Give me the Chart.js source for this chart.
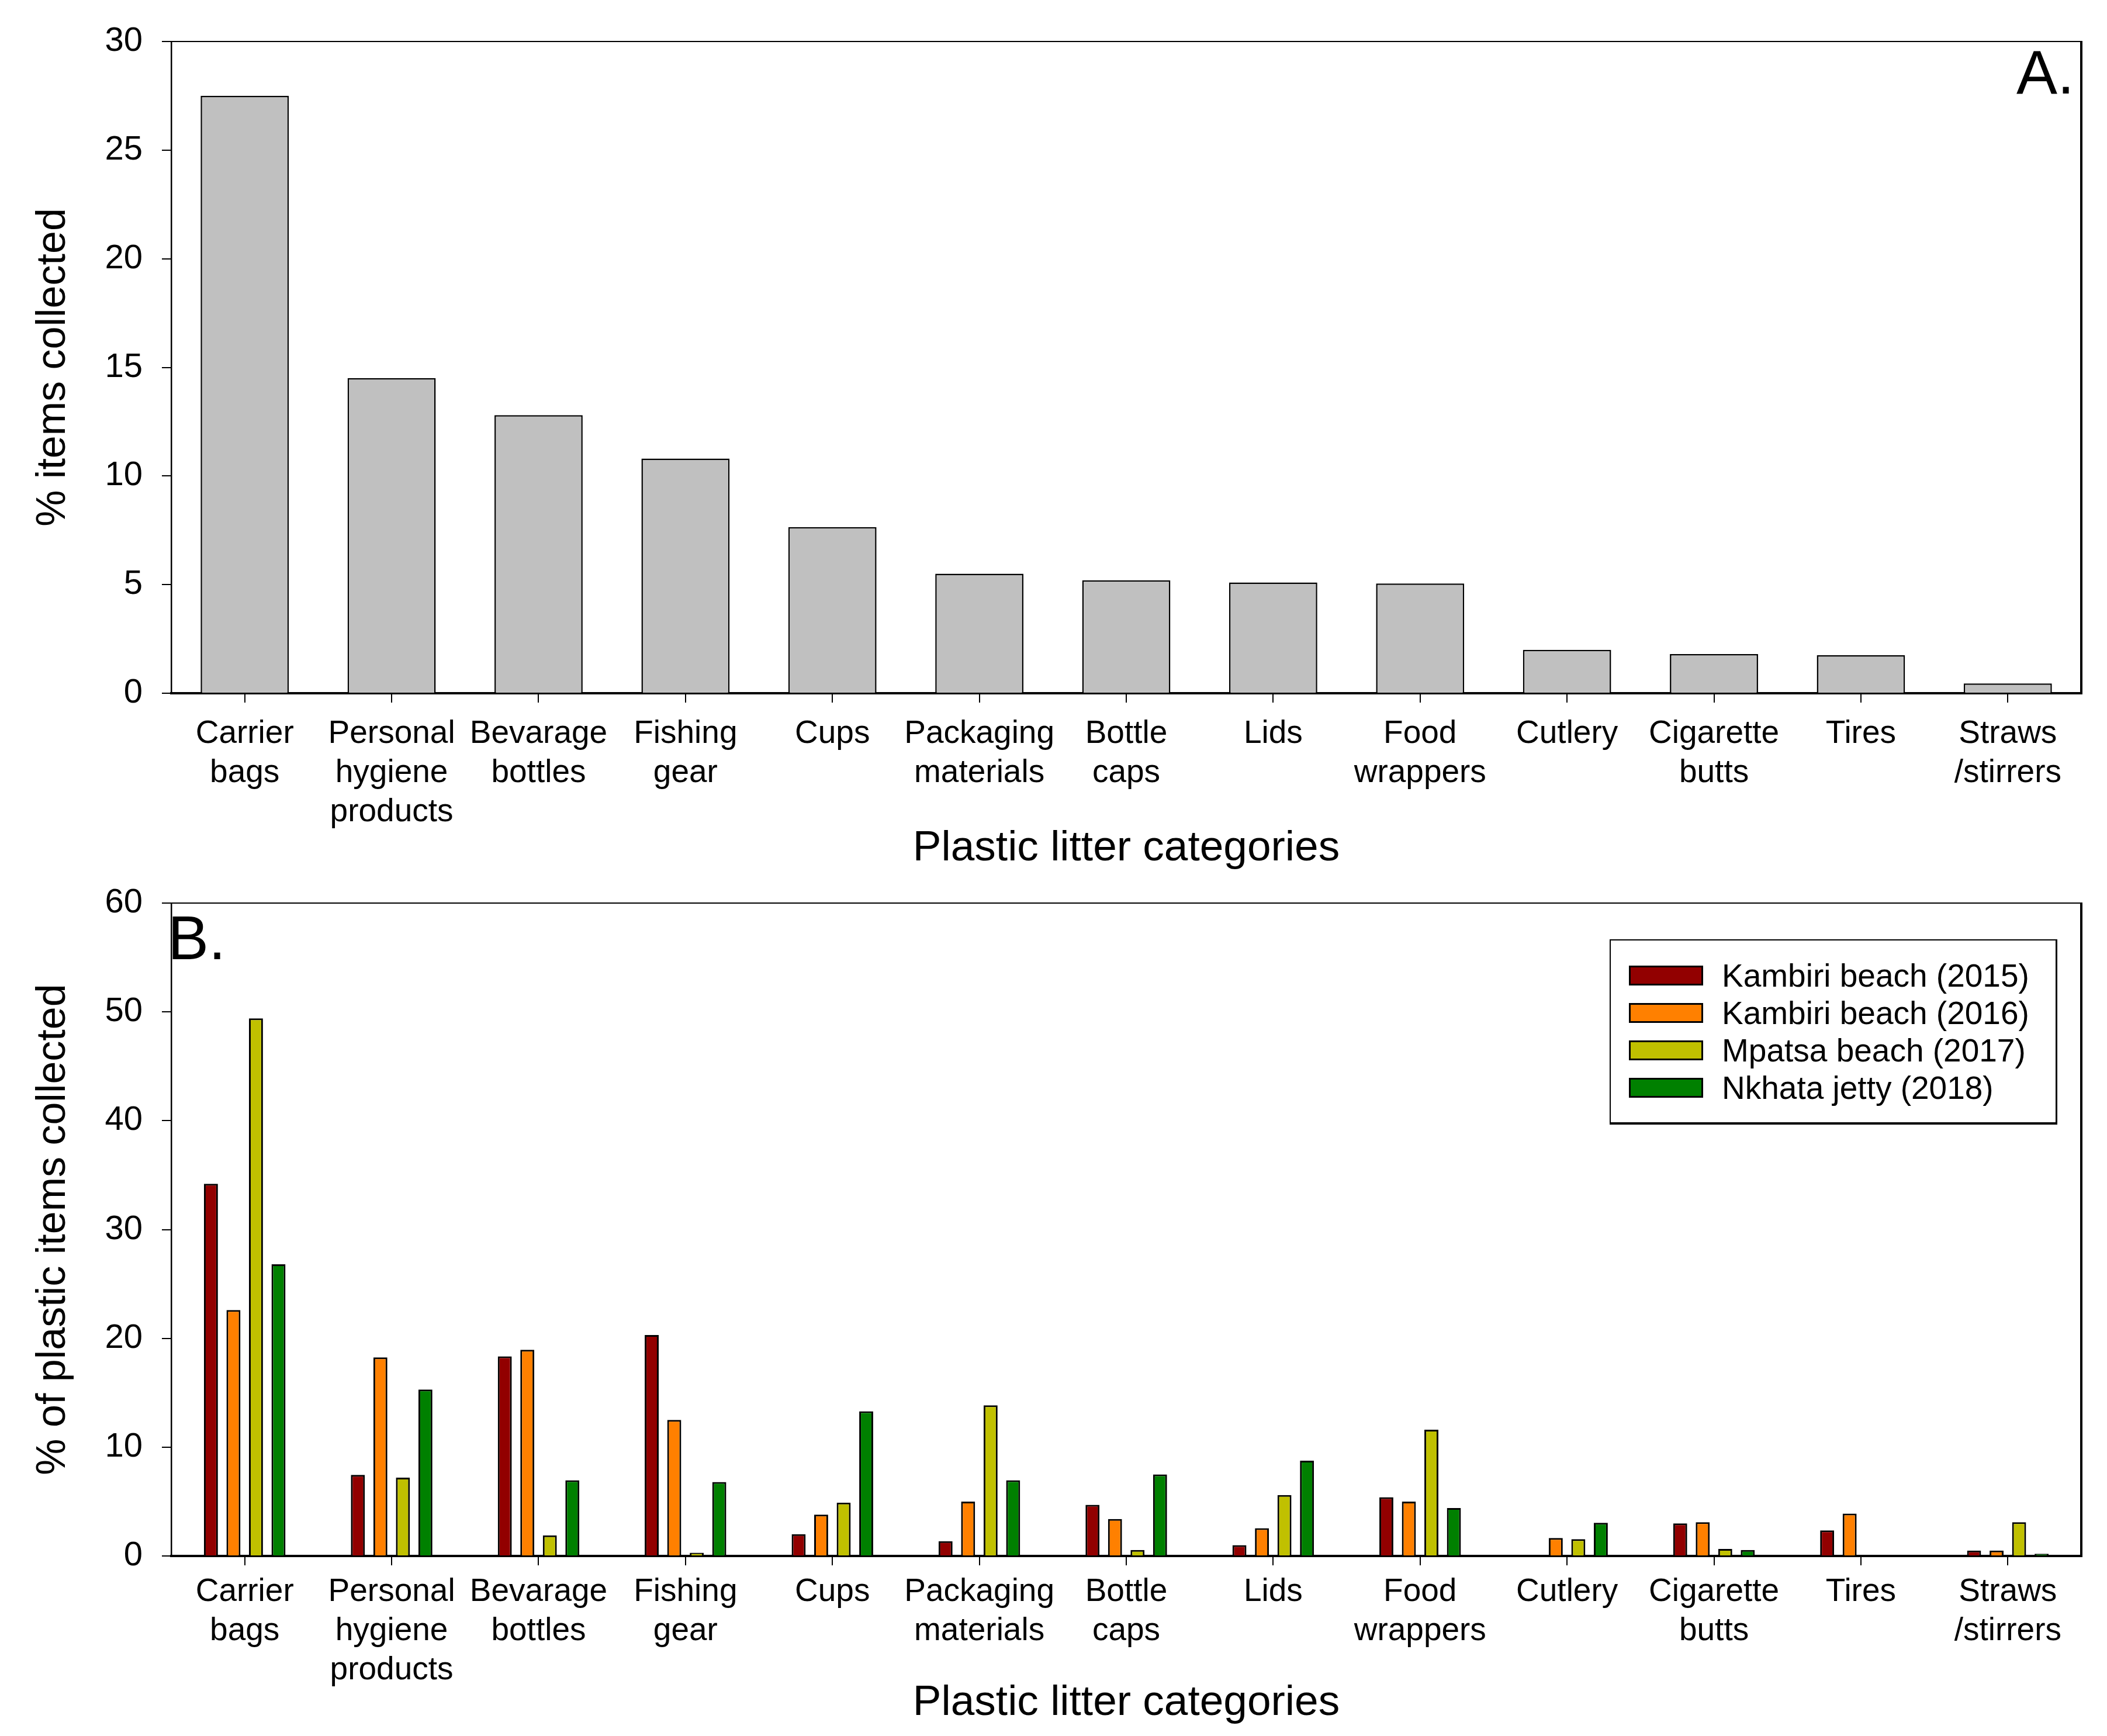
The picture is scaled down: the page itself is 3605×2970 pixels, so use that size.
<!DOCTYPE html>
<html>
<head>
<meta charset="utf-8">
<script src="https://cdn.jsdelivr.net/npm/chart.js@4.4.0/dist/chart.umd.min.js"></script>
<style>
html,body{margin:0;padding:0;background:#fff;}
body{width:3605px;height:2970px;position:relative;overflow:hidden;font-family:"Liberation Sans",Arial,sans-serif;color:#000;}
canvas{position:absolute;left:0;}
#cA{top:0;}
#cB{top:1476px;}
.panel{position:absolute;font-size:105px;line-height:1;white-space:nowrap;}
#legend{position:absolute;left:2754px;top:1607px;width:766px;height:317px;box-sizing:border-box;border:2px solid #000;border-bottom-width:4px;border-right-width:3px;background:#fff;}
.sw{position:absolute;left:31px;width:127px;height:34px;box-sizing:border-box;border:3px solid #000;}
.lt{position:absolute;left:190px;height:64px;line-height:64px;font-size:55px;white-space:nowrap;}
</style>
</head>
<body>
<canvas id="cA" width="3605" height="1490"></canvas>
<canvas id="cB" width="3605" height="1490"></canvas>
<div class="panel" style="left:3450px;top:71px;">A.</div>
<div class="panel" style="left:287px;top:1552px;">B.</div>
<div id="legend"></div>
<script>
// ---- data ----
const categories = [
  ["Carrier","bags"],
  ["Personal","hygiene","products"],
  ["Bevarage","bottles"],
  ["Fishing","gear"],
  ["Cups"],
  ["Packaging","materials"],
  ["Bottle","caps"],
  ["Lids"],
  ["Food","wrappers"],
  ["Cutlery"],
  ["Cigarette","butts"],
  ["Tires"],
  ["Straws","/stirrers"]
];
const totalItemsPct = [27.5, 14.5, 12.8, 10.8, 7.65, 5.5, 5.2, 5.1, 5.05, 2.0, 1.8, 1.75, 0.45];

const seriesNames = ["Kambiri beach (2015)", "Kambiri beach (2016)", "Mpatsa beach (2017)", "Nkhata jetty (2018)"];
const seriesColors = ["#920000", "#ff8000", "#c0c000", "#008000"];
const kambiri2015 = [34.2, 7.45, 18.35, 20.3, 2.0, 1.35, 4.7, 1.0, 5.4, 0, 3.0, 2.35, 0.5];
const kambiri2016 = [22.6, 18.25, 18.95, 12.5, 3.8, 5.0, 3.4, 2.55, 5.0, 1.65, 3.1, 3.9, 0.5];
const mpatsa2017  = [49.4, 7.2, 1.9, 0.3, 4.9, 13.85, 0.55, 5.6, 11.6, 1.55, 0.65, 0, 3.1];
const nkhata2018  = [26.8, 15.3, 6.95, 6.8, 13.3, 6.95, 7.5, 8.75, 4.4, 3.05, 0.55, 0, 0.2];

const yTitleA = "% items collected";
const yTitleB = "% of plastic items collected";
const xTitle = "Plastic litter categories";

// ---- styling ----
const FONT = '"Liberation Sans", Arial, sans-serif';
const ZERO_Y = 1186;

const frame = {
  id: 'frame',
  afterDraw(chart) {
    const {ctx, chartArea: a} = chart;
    ctx.save();
    ctx.strokeStyle = '#000';
    ctx.lineWidth = 2;
    ctx.beginPath(); ctx.moveTo(a.left, a.top); ctx.lineTo(a.right + 2, a.top); ctx.stroke();
    ctx.lineWidth = 4;
    ctx.beginPath(); ctx.moveTo(a.right, a.top - 1); ctx.lineTo(a.right, a.bottom + 2); ctx.stroke();
    ctx.restore();
  }
};

function makeOptions(topPad, canvasH, yMax, yStep, yTitle, tickPad, xTitlePad) {
  return {
    responsive: false,
    animation: false,
    devicePixelRatio: 1,
    layout: {padding: {top: topPad, right: 44, left: 0, bottom: 0}},
    plugins: {legend: {display: false}, tooltip: {enabled: false}},
    scales: {
      x: {
        z: 1,
        grid: {display: true, drawOnChartArea: false, drawTicks: true, tickLength: 16, offset: false, color: '#000', lineWidth: 2},
        border: {display: true, color: '#000', width: 4},
        ticks: {color: '#000', font: {family: FONT, size: 55, lineHeight: 1.22}, padding: tickPad, maxRotation: 0, autoSkip: false},
        title: {display: true, text: xTitle, color: '#000', font: {family: FONT, size: 73, lineHeight: 1}, padding: {top: 0, bottom: xTitlePad}},
        afterFit(s) { s.height = canvasH - ZERO_Y; }
      },
      y: {
        min: 0, max: yMax,
        ticks: {stepSize: yStep, color: '#000', font: {family: FONT, size: 58}, padding: 33},
        grid: {drawOnChartArea: false, drawTicks: true, tickLength: 16, color: '#000', lineWidth: 2},
        border: {display: true, color: '#000', width: 2.5},
        title: {display: true, text: yTitle, color: '#000', font: {family: FONT, size: 70, lineHeight: 1}, padding: {top: 57, bottom: 0}},
        afterFit(s) { s.width = 293; }
      }
    }
  };
}

new Chart(document.getElementById('cA'), {
  type: 'bar',
  data: {
    labels: categories,
    datasets: [{
      data: totalItemsPct,
      backgroundColor: '#c0c0c0',
      borderColor: '#000',
      borderWidth: 2.5,
      categoryPercentage: 1.0,
      barPercentage: 0.6
    }]
  },
  options: makeOptions(71, 1490, 30, 5, yTitleA, 20, 2),
  plugins: [frame]
});

const seriesData = [kambiri2015, kambiri2016, mpatsa2017, nkhata2018];
new Chart(document.getElementById('cB'), {
  type: 'bar',
  data: {
    labels: categories,
    datasets: seriesData.map((d, i) => ({
      label: seriesNames[i],
      data: d,
      backgroundColor: seriesColors[i],
      borderColor: '#000',
      borderWidth: 3,
      categoryPercentage: 0.613,
      barPercentage: 0.62
    }))
  },
  options: makeOptions(69, 1490, 60, 10, yTitleB, 12, 16),
  plugins: [frame]
});

// HTML legend built from series arrays
const leg = document.getElementById('legend');
const rowCenters = [60, 124, 188, 252];
seriesNames.forEach((name, i) => {
  const sw = document.createElement('div');
  sw.className = 'sw';
  sw.style.top = (rowCenters[i] - 17) + 'px';
  sw.style.background = seriesColors[i];
  leg.appendChild(sw);
  const t = document.createElement('div');
  t.className = 'lt';
  t.style.top = (rowCenters[i] - 32) + 'px';
  t.textContent = name;
  leg.appendChild(t);
});
</script>
</body>
</html>
